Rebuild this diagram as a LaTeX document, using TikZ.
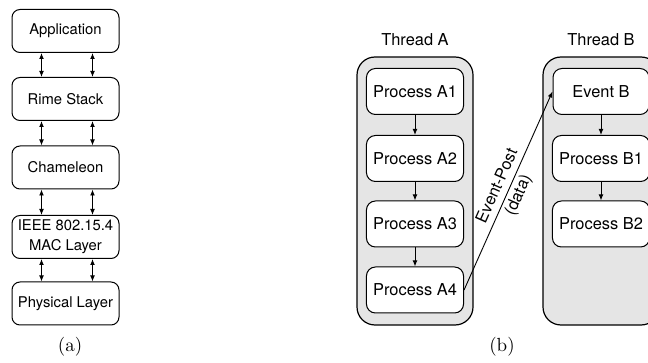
\documentclass[tikz,border=0pt]{standalone}
\usepackage{fontspec}
\newfontfamily\helv{TeX Gyre Heros}
\usetikzlibrary{arrows.meta}

\tikzset{
  layer/.style={draw, line width=0.5pt, rounded corners=4pt, minimum width=53.5pt,
    minimum height=21.5pt, inner sep=1.5pt, align=center,
    font=\helv\fontsize{7.4}{10}\selectfont},
  proc/.style={draw, line width=0.5pt, fill=white, rounded corners=4.5pt,
    minimum width=48pt, minimum height=23pt, font=\helv\fontsize{8.2}{9.5}\selectfont},
  thread/.style={draw, line width=0.6pt, fill=gray!20, rounded corners=9pt,
    minimum width=58pt, minimum height=134pt},
  title/.style={font=\helv\fontsize{8.2}{9.5}\selectfont},
  caption/.style={font=\fontsize{9.5}{11}\selectfont},
}

\begin{document}
\begin{tikzpicture}[x=0.5pt, y=-0.5pt, >={Latex[length=3pt,width=2.4pt]}]
  \clip (0,0) rectangle (648,363);

  % (a) protocol stack
  \node[layer] (app) at (65.5,31) {Application};
  \node[layer] (rime) at (65.5,99) {Rime Stack};
  \node[layer] (cham) at (65.5,167.5) {Chameleon};
  \node[layer] (mac) at (65.5,237) {IEEE 802.15.4\\MAC Layer};
  \node[layer] (phy) at (65.5,303.5) {Physical Layer};

  \foreach \up/\down in {app/rime, rime/cham, cham/mac, mac/phy} {
    \draw[<->, line width=0.45pt] ([xshift=-12pt]\up.south) -- ([xshift=-12pt]\down.north);
    \draw[<->, line width=0.45pt] ([xshift=13.5pt]\up.south) -- ([xshift=13.5pt]\down.north);
  }
  \node[caption] (capa) at (70,347) {(a)};

  % (b) threads
  \node[title] (titA) at (415,40) {Thread A};
  \node[thread] (thA) at (415,191) {};
  \node[proc] (a1) at (415,91.5) {Process A1};
  \node[proc] (a2) at (415,158.5) {Process A2};
  \node[proc] (a3) at (415,224) {Process A3};
  \node[proc] (a4) at (415,290) {Process A4};
  \draw[->, line width=0.45pt] (a1) -- (a2);
  \draw[->, line width=0.45pt] (a2) -- (a3);
  \draw[->, line width=0.45pt] (a3) -- (a4);

  \node[title] (titB) at (601,40) {Thread B};
  \node[thread] (thB) at (601,191) {};
  \node[proc] (evb) at (601,91.5) {Event B};
  \node[proc] (b1) at (601,158.5) {Process B1};
  \node[proc] (b2) at (601,224) {Process B2};
  \draw[->, line width=0.45pt] (evb) -- (b1);
  \draw[->, line width=0.45pt] (b1) -- (b2);

  \draw[->, line width=0.45pt] (a4.east) -- node[sloped, align=center, title] (post)
    {Event-Post\\[2pt](data)} (evb.west);
  \node[caption] (capb) at (502,347) {(b)};
\end{tikzpicture}
\end{document}
